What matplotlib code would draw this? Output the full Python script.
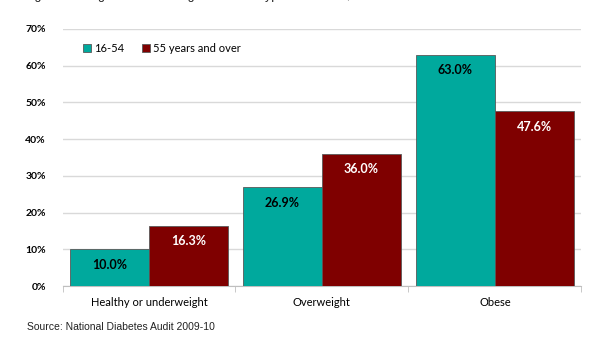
import numpy as np
import matplotlib.pyplot as plt

categories = ['Healthy or underweight', 'Overweight', 'Obese']
young = [10.0, 26.9, 63.0]
old = [16.3, 36.0, 47.6]
series_names = ['16-54', '55 years and over']
yticks = [0, 10, 20, 30, 40, 50, 60, 70]

teal = '#00A99D'
maroon = '#7F0000'

fig = plt.figure(figsize=(5.92, 3.39), dpi=100)
ax = fig.add_axes([0.1056, 0.1563, 0.8764, 0.7582])

x = np.arange(len(categories))
w = 0.457
b1 = ax.bar(x - w/2, young, w, color=teal, edgecolor='#595959', linewidth=0.6, label=series_names[0], zorder=3)
b2 = ax.bar(x + w/2, old, w, color=maroon, edgecolor='#595959', linewidth=0.6, label=series_names[1], zorder=3)

for bars, vals, tc in [(b1, young, 'black'), (b2, old, 'white')]:
    for r, v in zip(bars, vals):
        ax.annotate('%.1f%%' % v, (r.get_x() + r.get_width()/2, v), xytext=(0, -11),
                    textcoords='offset points', ha='center', va='center',
                    fontsize=9, fontweight='bold', family='Lato', color=tc, zorder=4)

ax.set_xlim(-0.5, 2.5)
ax.set_ylim(0, 70)
ax.set_yticks(yticks)
ax.set_yticklabels(['%d%%' % t for t in yticks], fontsize=7.5, family='Lato', fontweight='bold')
ax.yaxis.grid(True, color='#d9d9d9', linewidth=1.0, zorder=0)
ax.tick_params(axis='y', length=0, pad=12)

ax.set_xticks(x)
ax.set_xticklabels(categories, fontsize=8, family='Lato')
ax.set_xticks([-0.5, 0.5, 1.5, 2.5], minor=True)
ax.tick_params(axis='x', which='major', length=0, pad=8)
ax.tick_params(axis='x', which='minor', length=4, color='#bfbfbf', direction='out')

for s in ['top', 'right', 'left']:
    ax.spines[s].set_visible(False)
ax.spines['bottom'].set_color('#bfbfbf')

leg = ax.legend(loc='upper left', bbox_to_anchor=(0.02, 0.985), ncol=2, frameon=False,
                prop={'family': 'Lato', 'size': 8}, handlelength=0.7, handleheight=0.7,
                handletextpad=0.3, columnspacing=1.6)

fig.text(0.046, 0.028, 'Source: National Diabetes Audit 2009-10', fontsize=7.5,
         family='Liberation Sans', color='#222222')
fig.text(0.04, 1.004, 'Figure 3: Weight status among adults with type 2 diabetes, 2009-10',
         fontsize=9, family='Liberation Sans', va='baseline', color='#222222')

fig.savefig('out.png', dpi=100)
